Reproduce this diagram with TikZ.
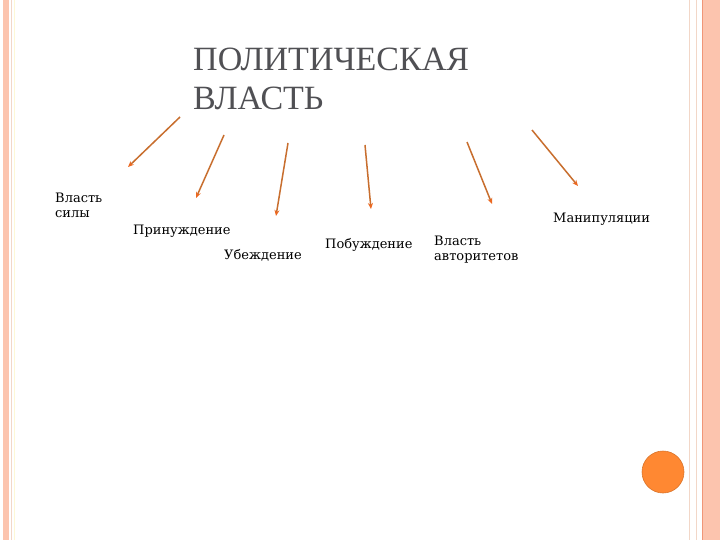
\documentclass[tikz,border=0pt]{standalone}
\usepackage{fontspec}
\setmainfont{DejaVu Serif}
\newfontfamily\titlefont{Liberation Serif}
\usetikzlibrary{arrows.meta}
\definecolor{salmon}{RGB}{252,196,174}
\definecolor{salmonline}{RGB}{240,150,120}
\definecolor{paleline}{RGB}{242,215,200}
\definecolor{arrowcol}{RGB}{200,110,46}
\definecolor{tipcol}{RGB}{236,104,32}
\definecolor{titlecol}{RGB}{80,80,84}
\definecolor{dotcol}{RGB}{255,136,50}
\tikzset{
  lbl/.style={anchor=north west, inner sep=0pt, align=left, font=\fontsize{13}{15}\selectfont, text=black},
  ttl/.style={anchor=north west, inner sep=0pt, align=left, font=\titlefont\fontsize{34}{39}\selectfont, text=titlecol},
  arr/.style={draw=arrowcol, line width=1.5pt, -{Stealth[length=6pt,width=5pt,color=tipcol]}}
}
\begin{document}
\begin{tikzpicture}[x=1pt,y=-1pt]
\useasboundingbox (0,0) rectangle (720,540);
\fill[white] (0,0) rectangle (720,540);
% left border
\fill[salmon] (3,0) rectangle (9,540);
\draw[paleline, line width=0.8pt] (11,0) -- (11,540);
\draw[paleline!60!yellow!30, line width=0.8pt] (14,0) -- (14,540);
% right border
\draw[paleline, line width=1.2pt] (689.5,0) -- (689.5,540);
\draw[paleline, line width=1pt] (696.5,0) -- (696.5,540);
\fill[salmon] (703,0) rectangle (720,540);
\draw[salmonline, line width=1.4pt] (702.5,0) -- (702.5,540);
% title
\node[ttl] (title) at (193,48) {ПОЛИТИЧЕСКАЯ\\ВЛАСТЬ};
% labels
\node[lbl] (sila) at (55,193) {Власть\\силы};
\node[lbl] (prin) at (133,225) {Принуждение};
\node[lbl] (ubez) at (224,249) {Убеждение};
\node[lbl] (pobu) at (325,238) {Побуждение};
\node[lbl] (avto) at (434,236) {Власть\\авторитетов};
\node[lbl] (mani) at (553,213) {Манипуляции};
% arrow endpoints
\coordinate (s1) at (180,117); \coordinate (e1) at (128,167);
\coordinate (s2) at (224,135); \coordinate (e2) at (196,198);
\coordinate (s3) at (288,143); \coordinate (e3) at (276,216);
\coordinate (s4) at (365,145); \coordinate (e4) at (371,209);
\coordinate (s5) at (467,142); \coordinate (e5) at (492,204);
\coordinate (s6) at (532,130); \coordinate (e6) at (578,186);
\draw[arr] (s1) -- (e1);
\draw[arr] (s2) -- (e2);
\draw[arr] (s3) -- (e3);
\draw[arr] (s4) -- (e4);
\draw[arr] (s5) -- (e5);
\draw[arr] (s6) -- (e6);
% dot
\node[circle, minimum size=42pt, inner sep=0pt, fill=dotcol, draw=dotcol!85!black, line width=0.6pt] (dot) at (663,472) {};
\end{tikzpicture}
\end{document}
